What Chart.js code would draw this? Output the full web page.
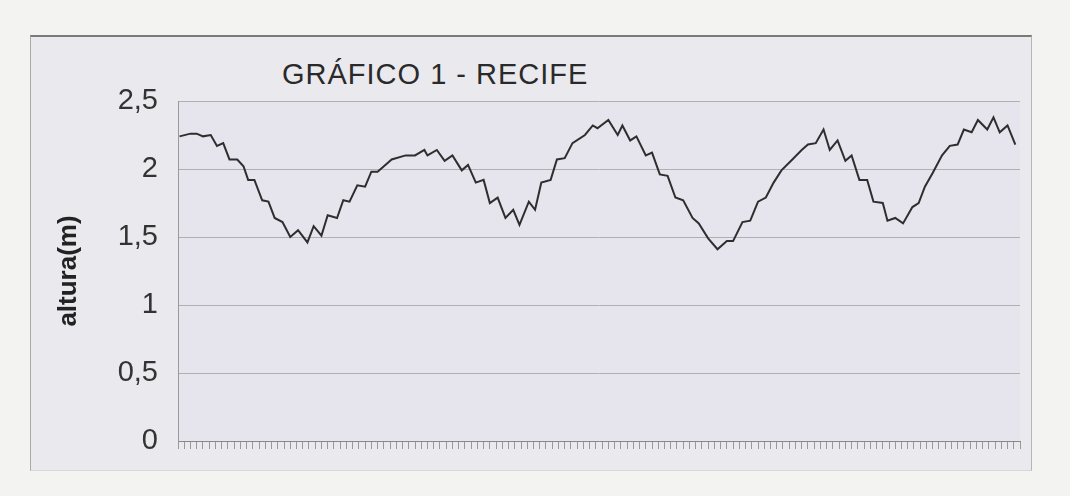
<!DOCTYPE html>
<html>
<head>
<meta charset="utf-8">
<script src="https://cdn.jsdelivr.net/npm/chart.js@4"></script>
<style>
  html, body { margin: 0; padding: 0; background: #f3f4f1; }
  #wrap { position: relative; width: 1070px; height: 496px; }
  #box {
    position: absolute; left: 30px; top: 35px; width: 1000px; height: 433px;
    background: #eae9ee;
    border-top: 2px solid #7a7a7a; border-left: 1px solid #a9a9a9;
    border-right: 1px solid #b5b5b5; border-bottom: 1px solid #d8d8d8;
  }
  #titulo {
    position: absolute; left: 282px; top: 58px;
    font: 29px "Liberation Sans", Arial, sans-serif; color: #2a2a2a;
    letter-spacing: 1px;
  }
  canvas { position: absolute; left: 0; top: 0; }
</style>
</head>
<body>
<div id="wrap">
  <div id="box"></div>
  <div id="titulo">GRÁFICO 1 - RECIFE</div>
  <canvas id="grafico" width="1070" height="496"></canvas>
</div>
<script>
// tempo (h) e altura da maré (m)
const horas = [
  0.1, 0.8, 1.2, 1.6, 2.1, 2.5, 2.9, 3.3, 3.8, 4.2, 4.5, 4.9, 5.4, 5.8, 6.2, 6.7,
  7.2, 7.7, 8.3, 8.7, 9.2, 9.6, 10.2, 10.6, 11.0, 11.5, 12.0, 12.4, 12.8, 13.5, 13.7,
  14.6, 15.2, 15.8, 16.0, 16.6, 17.1, 17.6, 18.2, 18.6, 19.1, 19.6, 20.0, 20.5, 21.0,
  21.5, 21.9, 22.5, 22.9, 23.3, 23.9, 24.3, 24.8, 25.3, 26.1, 26.6, 26.9, 27.6, 28.2,
  28.5, 29.0, 29.4, 30.0, 30.4, 30.9, 31.4, 31.9, 32.4, 33.0, 33.4, 34.0, 34.6, 35.2,
  35.6, 36.2, 36.7, 37.2, 37.7, 38.2, 38.7, 39.4, 40.0, 40.4, 40.9, 41.4, 41.8, 42.3,
  42.8, 43.2, 43.7, 44.2, 44.6, 45.2, 45.5, 46.0, 46.5, 47.1, 47.5, 47.9, 48.4, 49.0,
  49.5, 50.0, 50.4, 50.9, 51.3, 51.9, 52.3, 52.7, 53.2, 53.7
];
const altura = [
  2.24, 2.26, 2.26, 2.24, 2.25, 2.17, 2.19, 2.07, 2.07, 2.02, 1.92, 1.92, 1.77, 1.76, 1.64, 1.61,
  1.50, 1.55, 1.46, 1.58, 1.51, 1.66, 1.64, 1.77, 1.76, 1.88, 1.87, 1.98, 1.98, 2.05, 2.07,
  2.10, 2.10, 2.14, 2.10, 2.14, 2.06, 2.10, 1.99, 2.03, 1.90, 1.92, 1.75, 1.79, 1.64,
  1.70, 1.59, 1.76, 1.70, 1.90, 1.92, 2.07, 2.08, 2.19, 2.25, 2.32, 2.30, 2.36, 2.25,
  2.32, 2.21, 2.24, 2.10, 2.12, 1.96, 1.95, 1.79, 1.77, 1.64, 1.60, 1.49, 1.41, 1.47,
  1.47, 1.61, 1.62, 1.76, 1.79, 1.90, 1.99, 2.07, 2.14, 2.18, 2.19, 2.29, 2.14, 2.21,
  2.06, 2.10, 1.92, 1.92, 1.76, 1.75, 1.62, 1.64, 1.60, 1.72, 1.75, 1.87, 1.97, 2.10,
  2.17, 2.18, 2.29, 2.27, 2.36, 2.29, 2.38, 2.27, 2.32, 2.18
];
const yTicks = ['0', '0,5', '1', '1,5', '2', '2,5'];
const tituloEixoY = 'altura(m)';

const fundoArea = {
  id: 'fundoArea',
  beforeDraw(chart) {
    const { ctx, chartArea: a } = chart;
    ctx.save();
    ctx.fillStyle = '#e6e4ec';
    ctx.fillRect(a.left, a.top, a.right - a.left, a.bottom - a.top);
    ctx.restore();
  }
};

new Chart(document.getElementById('grafico'), {
  type: 'line',
  data: {
    datasets: [{
      data: horas.map((h, i) => ({ x: h, y: altura[i] })),
      borderColor: '#2e2e2e',
      borderWidth: 2,
      pointRadius: 0,
      tension: 0,
      fill: false
    }]
  },
  options: {
    responsive: false,
    animation: false,
    layout: { padding: { left: 53, right: 50, top: 101, bottom: 45 } },
    plugins: { legend: { display: false }, tooltip: { enabled: false } },
    scales: {
      x: {
        type: 'linear', min: 0, max: 54,
        afterFit: s => { s.height = 10; },
        border: { color: '#888', width: 1 },
        grid: { drawOnChartArea: false, color: '#999', tickLength: 8 },
        ticks: { stepSize: 0.4, autoSkip: false, callback: () => '' }
      },
      y: {
        min: 0, max: 2.5,
        afterFit: s => { s.width = 125; },
        border: { color: '#9a9a9a', width: 1 },
        grid: { color: '#b0b0b4', lineWidth: 1, drawTicks: false },
        ticks: {
          stepSize: 0.5, padding: 20,
          color: '#333',
          font: { family: 'Liberation Sans', size: 29 },
          callback: (v, i) => yTicks[i]
        },
        title: {
          display: true, text: tituloEixoY, color: '#222',
          font: { family: 'Liberation Sans', size: 26, weight: 'bold' },
          padding: { top: 0, bottom: 0 }
        }
      }
    }
  },
  plugins: [fundoArea]
});
</script>
</body>
</html>
